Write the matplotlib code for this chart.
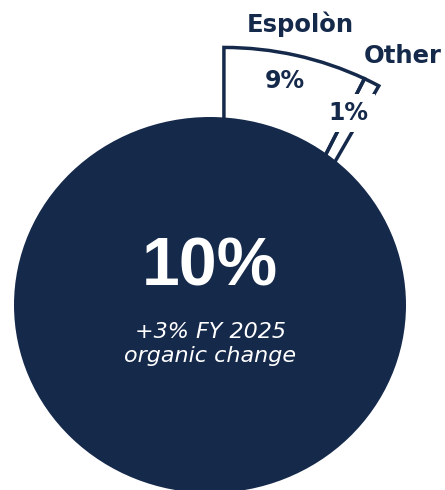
import numpy as np
import matplotlib.pyplot as plt
from matplotlib.patches import Circle, Wedge

# data
slice_names = ["Espolòn", "Other"]
slice_pcts = [9, 1]
total_pct = 10
change_lines = ["+3% FY 2025", "organic change"]

navy = "#15294B"

fig = plt.figure(figsize=(4.45, 4.9), dpi=100)
ax = fig.add_axes([0, 0, 1, 1])
# units: main circle radius = 1 (slightly squashed vertically like the slide)
ax.set_xlim(-210 / 196, 235 / 196)
ax.set_ylim(-185 / 188, 305 / 188)
ax.axis('off')

# exploded detail wedge, drawn behind the main circle
wc = (0.071, -0.26)
R = 1.63
deg_per_pct = 2.9
start = 90
for name, p in zip(slice_names, slice_pcts):
    end = start - p * deg_per_pct
    w = Wedge(wc, R, end, start, fill=False, ec=navy, lw=2.5,
              joinstyle='miter', zorder=1)
    ax.add_patch(w)
    start = end

ax.add_patch(Circle((0, 0), 1, color=navy, zorder=3, lw=0))

# labels
lab_font = "DejaVu Sans"
ax.text(0.459, 1.452, slice_names[0], ha='center', va='baseline',
        fontsize=17.5, fontweight='bold', color=navy, family=lab_font)
ax.text(0.985, 1.287, slice_names[1], ha='center', va='baseline',
        fontsize=17.5, fontweight='bold', color=navy, family=lab_font)
ax.text(0.383, 1.154, f"{slice_pcts[0]}%", ha='center', va='baseline',
        fontsize=17, fontweight='bold', color=navy, family=lab_font, zorder=2)
ax.text(0.704, 0.984, f"{slice_pcts[1]}%", ha='center', va='baseline',
        fontsize=17, fontweight='bold', color=navy, family=lab_font, zorder=2,
        bbox=dict(boxstyle='square,pad=0.3', fc='white', ec='none'))

ax.text(0, 0.106, f"{total_pct}%", ha='center', va='baseline',
        fontsize=49, fontweight='bold', color='white',
        family="Liberation Sans", zorder=4)
ax.text(0, -0.176, change_lines[0], ha='center', va='baseline',
        fontsize=16, style='italic', color='white', family=lab_font, zorder=4)
ax.text(0, -0.303, change_lines[1], ha='center', va='baseline',
        fontsize=16, style='italic', color='white', family=lab_font, zorder=4)

fig.savefig("out.png", dpi=100)
